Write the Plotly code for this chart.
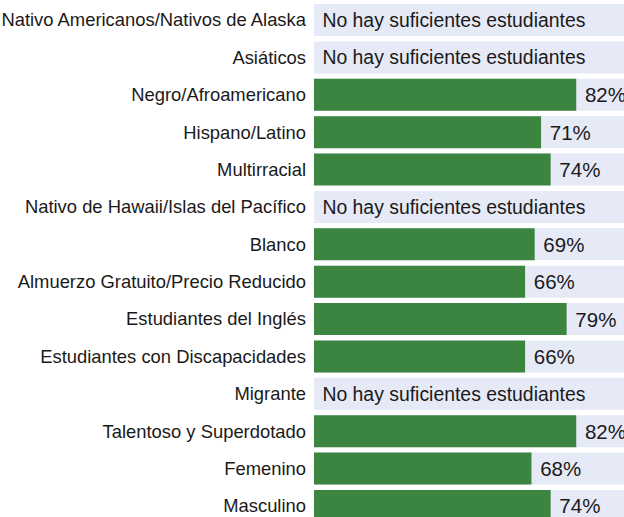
import plotly.graph_objects as go

categories = [
    "Nativo Americanos/Nativos de Alaska",
    "Asiáticos",
    "Negro/Afroamericano",
    "Hispano/Latino",
    "Multirracial",
    "Nativo de Hawaii/Islas del Pacífico",
    "Blanco",
    "Almuerzo Gratuito/Precio Reducido",
    "Estudiantes del Inglés",
    "Estudiantes con Discapacidades",
    "Migrante",
    "Talentoso y Superdotado",
    "Femenino",
    "Masculino",
]
values = [None, None, 82, 71, 74, None, 69, 66, 79, 66, None, 82, 68, 74]
no_data_label = "No hay suficientes estudiantes"

X_MAX = 310 / 3.198  # visible part of the 0-100% scale
full_scale = [X_MAX] * len(categories)

NB = "\u00a0"
bg_text = [(NB + no_data_label) if v is None else "" for v in values]
val_text = ["" if v is None else f"{NB}{v}%" for v in values]

FONT = "Arial, Liberation Sans, sans-serif"

fig = go.Figure()
fig.add_trace(go.Bar(
    y=categories, x=full_scale, orientation="h",
    marker=dict(color="#E6E9F6", line=dict(width=0)),
    text=bg_text, textposition="inside", insidetextanchor="start",
    insidetextfont=dict(family=FONT, size=19.4, color="#1a1a1a"),
    constraintext="none", hoverinfo="skip", showlegend=False,
))
fig.add_trace(go.Bar(
    y=categories, x=values, orientation="h",
    marker=dict(color="#3B8541", line=dict(width=0)),
    text=val_text, textposition="outside",
    outsidetextfont=dict(family=FONT, size=20.5, color="#1a1a1a"),
    constraintext="none", cliponaxis=False, hoverinfo="skip", showlegend=False,
))

fig.update_layout(
    width=624, height=517,
    margin=dict(l=314, r=0, t=0, b=0),
    paper_bgcolor="white", plot_bgcolor="white",
    barmode="overlay", bargap=0.144,
    hovermode=False,
    font=dict(family=FONT, size=18.4, color="#1a1a1a"),
)
fig.update_xaxes(range=[0, X_MAX], visible=False, fixedrange=True)
fig.update_yaxes(
    type="category", categoryorder="array", categoryarray=categories,
    range=[13.296, -0.535], showgrid=False, zeroline=False, showline=False,
    ticks="", ticklabelstandoff=7, tickfont=dict(size=18.4, color="#1a1a1a"),
    fixedrange=True,
)

fig.write_html(
    "out.html",
    config={"displayModeBar": False},
    post_script="document.body.style.margin='0';document.body.style.overflow='hidden';",
)
